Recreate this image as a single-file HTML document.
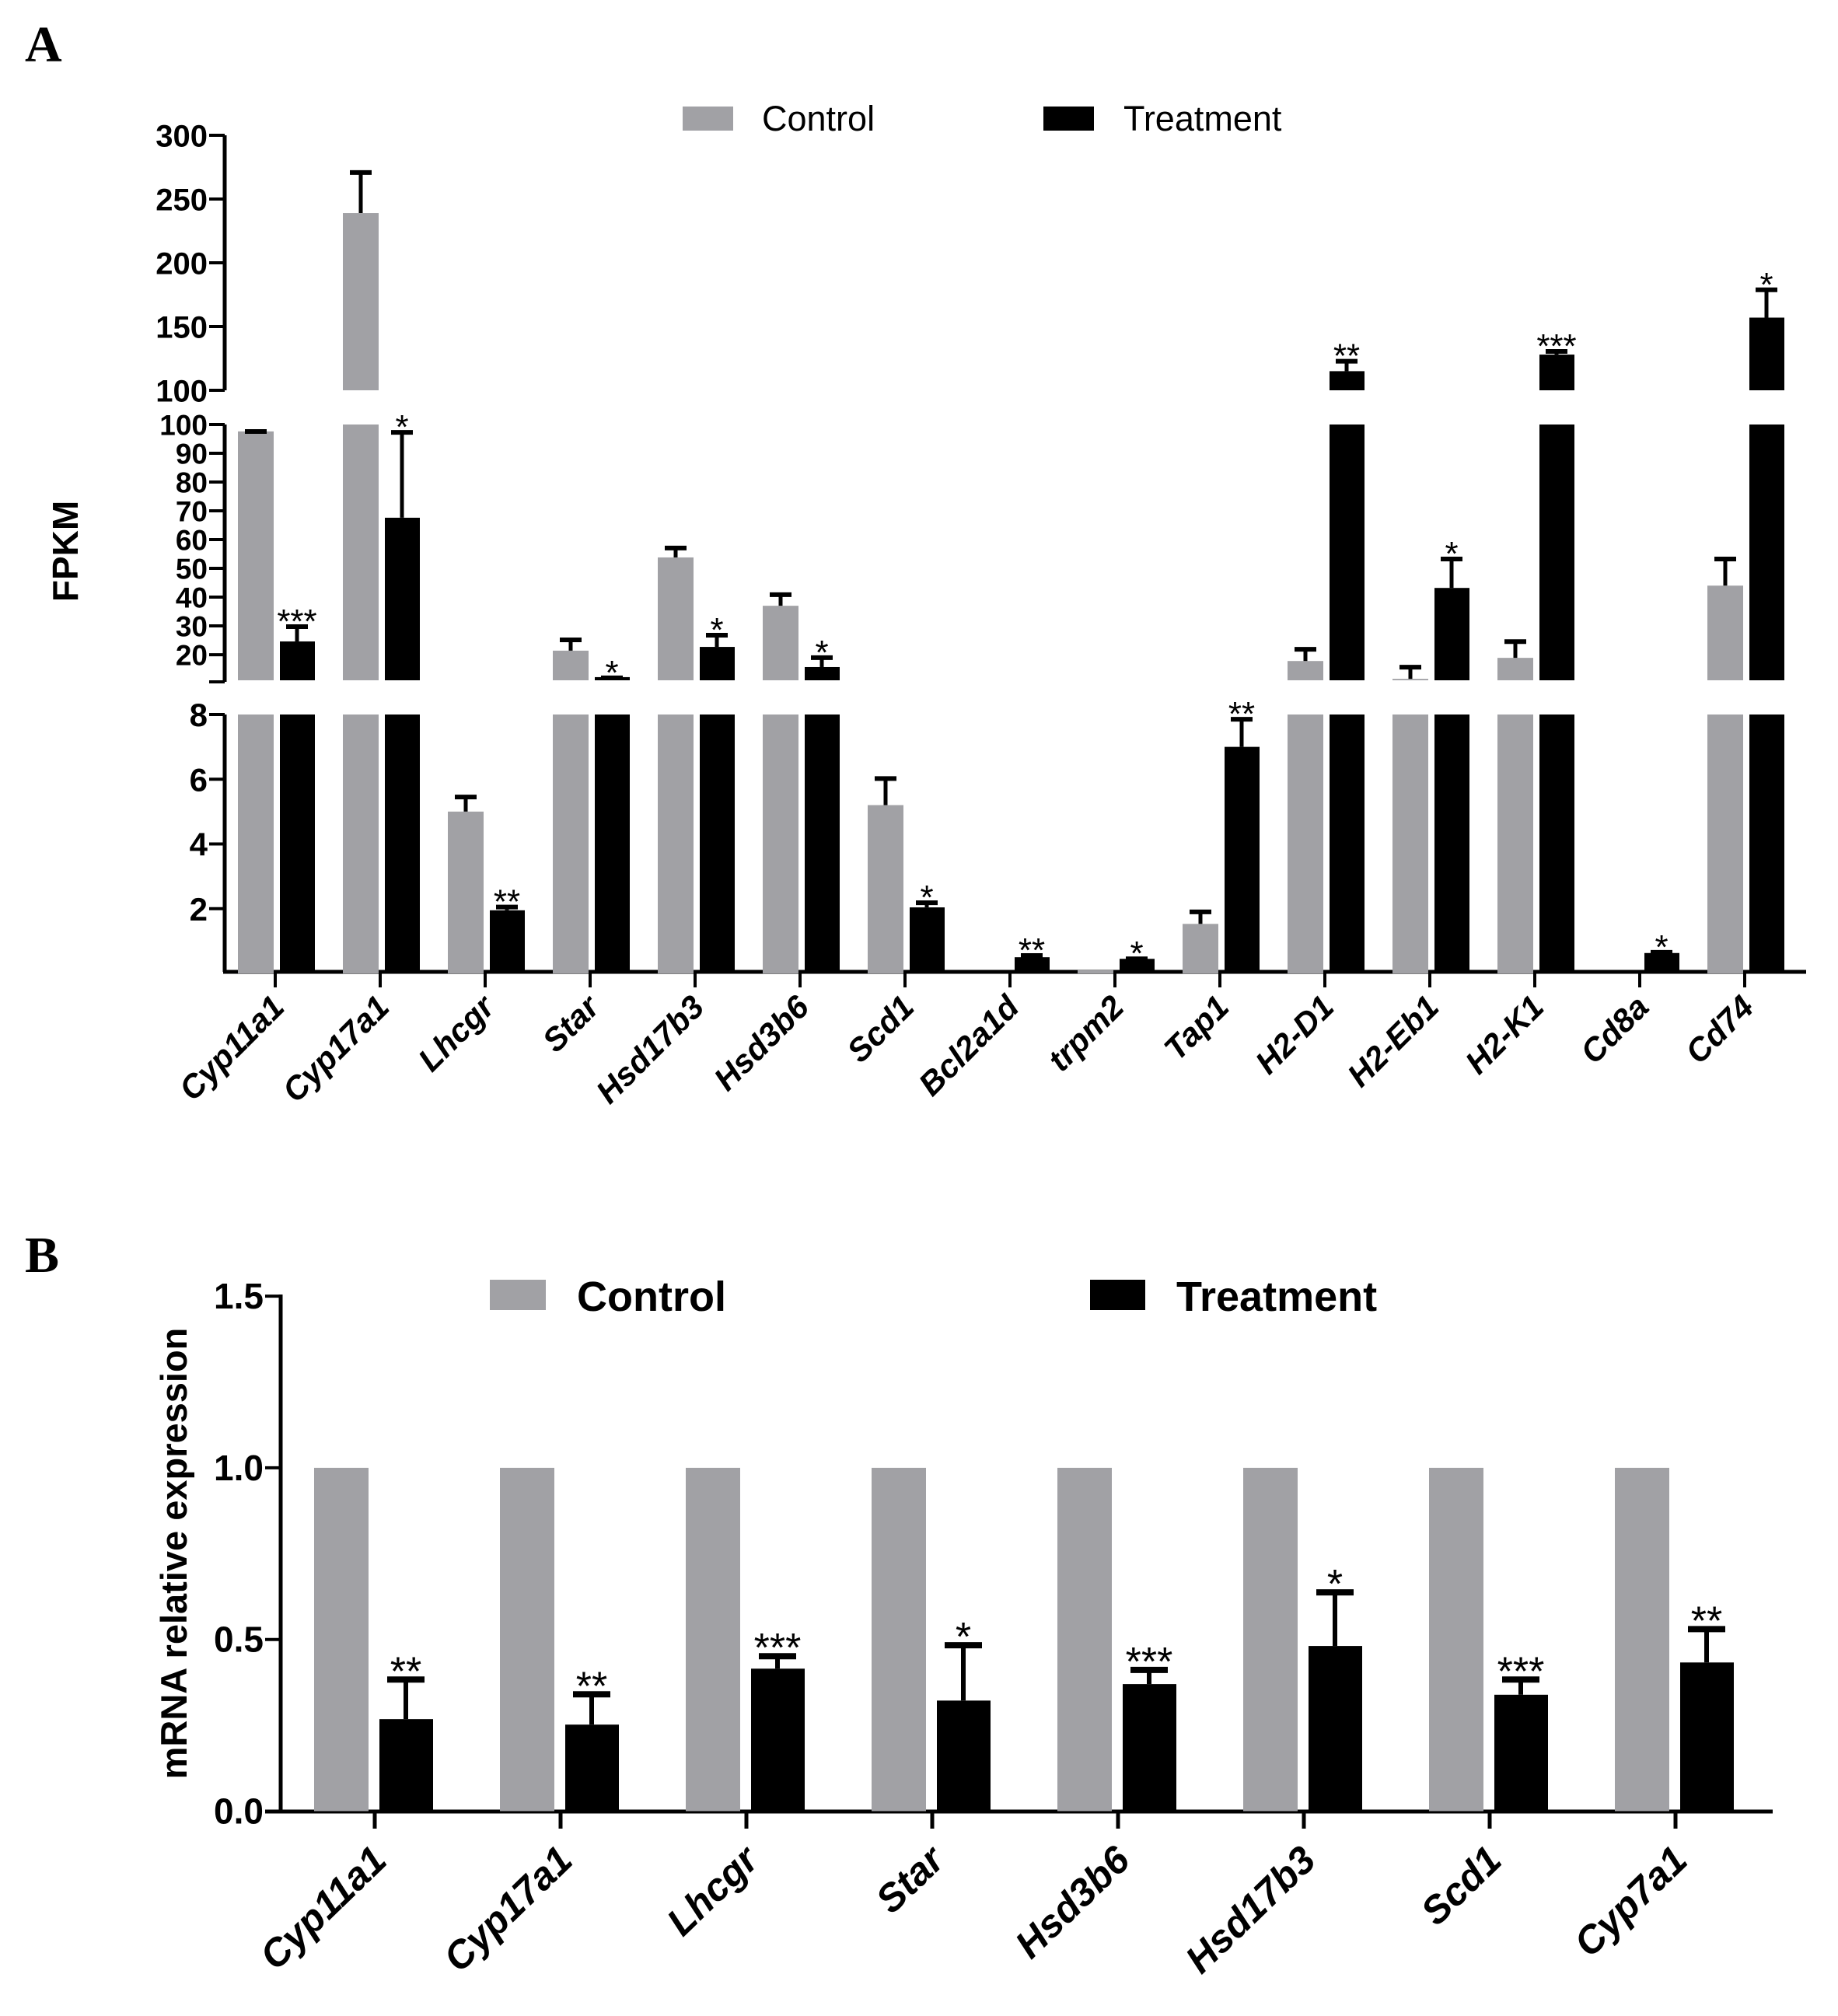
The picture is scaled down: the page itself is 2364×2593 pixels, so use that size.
<!DOCTYPE html>
<html><head><meta charset="utf-8"><style>
html,body{margin:0;padding:0;background:#fff}
svg{display:block}
</style></head><body>
<svg id="fig" width="2364" height="2593" viewBox="0 0 2364 2593" xmlns="http://www.w3.org/2000/svg" font-family="Liberation Sans, Arial, sans-serif">
<text x="32" y="79" style="font-family:'Liberation Serif',serif" font-weight="bold" font-size="66">A</text>
<text x="32" y="1636" style="font-family:'Liberation Serif',serif" font-weight="bold" font-size="66">B</text>
<g id="gA"></g>
<g id="gB"></g>
</svg>
<script>
// ---------- Panel A data ----------
const catsA = ["Cyp11a1","Cyp17a1","Lhcgr","Star","Hsd17b3","Hsd3b6","Scd1","Bcl2a1d","trpm2","Tap1","H2-D1","H2-Eb1","H2-K1","Cd8a","Cd74"];
const ctrlA = [97.6,239,5.0,21.4,53.8,37,5.2,0,0.1,1.53,17.8,11.6,18.9,0,44];
const ctrlErrA = [98.1,272,5.5,25.7,57.6,41.4,6.07,0,0.1,1.95,22.4,16.2,25.1,0,53.8];
const trtA = [24.6,67.6,1.95,12.2,22.7,15.7,2.04,0.5,0.45,7.0,115,43.2,128,0.63,157];
const trtErrA = [30.3,97.8,2.1,12.5,27.3,19.5,2.23,0.6,0.5,7.9,124,53.8,131.7,0.7,180];
const sigA = ["***","*","**","*","*","*","*","**","*","**","**","*","***","*","*"];
const ticksTopA = [100,150,200,250,300];
const ticksMidA = [20,30,40,50,60,70,80,90,100];
const ticksBotA = [2,4,6,8];
// ---------- Panel B data ----------
const catsB = ["Cyp11a1","Cyp17a1","Lhcgr","Star","Hsd3b6","Hsd17b3","Scd1","Cyp7a1"];
const ctrlB = [1,1,1,1,1,1,1,1];
const trtB = [0.268,0.252,0.415,0.322,0.37,0.481,0.339,0.433];
const trtErrB = [0.39,0.347,0.458,0.49,0.418,0.644,0.39,0.537];
const sigB = ["**","**","***","*","***","*","***","**"];
const ticksB = [0.0,0.5,1.0,1.5];
const tickLabelsB = ["0.0","0.5","1.0","1.5"];

const NS="http://www.w3.org/2000/svg";
function mk(parent,tag,attrs,txt){const e=document.createElementNS(NS,tag);for(const k in attrs)e.setAttribute(k,attrs[k]);if(txt!==undefined)e.textContent=txt;parent.appendChild(e);return e;}
const GREY="#a1a1a5";

const segs=[
 {lo:100,hi:300,y0:502,y1:174},
 {lo:11.1,hi:100,y0:875,y1:546},
 {lo:0,hi:8,y0:1252,y1:919}
];
function segY(s,v){return s.y0-(v-s.lo)*(s.y0-s.y1)/(s.hi-s.lo);}
function xA(i){return 354+i*135;}
function yA(v){
  if(v>100) return segY(segs[0],v);
  if(v>8) return segY(segs[1],Math.max(v,11.1));
  return segY(segs[2],v);
}
const gA=document.getElementById('gA');
const axX=289;
[[174,502],[546,877],[919,1250]].forEach((r,k)=>{
  const l=mk(gA,'line',{x1:axX,x2:axX,y1:r[0],y2:r[1],stroke:'#000','stroke-width':5});
  
  
});
mk(gA,'line',{x1:269,x2:axX,y1:877,y2:877,stroke:'#000','stroke-width':4});
function yTick(g,y,label,fs){
  mk(g,'line',{x1:axX-20,x2:axX,y1:y,y2:y,stroke:'#000','stroke-width':4});
  const t=mk(g,'text',{x:axX-22,y:y+fs*0.36,'text-anchor':'end','font-size':fs,'font-weight':'bold'},label);
  
  
}
ticksTopA.forEach(v=>yTick(gA,segY(segs[0],v),String(v),40));
ticksMidA.forEach(v=>yTick(gA,segY(segs[1],v),String(v),37));
ticksBotA.forEach(v=>yTick(gA,segY(segs[2],v),String(v),42));
const xaA=mk(gA,'line',{x1:axX-2,x2:2323,y1:1250,y2:1250,stroke:'#000','stroke-width':5});


const ytA=mk(gA,'text',{x:0,y:0,transform:'translate(100,709) rotate(-90)','text-anchor':'middle','font-size':46,'font-weight':'bold'},'FPKM');



function barA(x,w,v,color,name){
  segs.forEach(s=>{
    if(v<=s.lo) return;
    const top=segY(s,Math.min(v,s.hi)), bot=s.y0;
    const r=mk(gA,'rect',{x:x,y:top,width:w,height:Math.max(bot-top,1.5),fill:color});
    
    
  });
}
function errA(cx,v,e){
  if(e<=v) return;
  const y1=yA(v), y2=yA(e);
  mk(gA,'line',{x1:cx,x2:cx,y1:y1,y2:y2,stroke:'#000','stroke-width':5});
  mk(gA,'line',{x1:cx-14,x2:cx+14,y1:y2+2,y2:y2+2,stroke:'#000','stroke-width':6});
}
catsA.forEach((c,i)=>{
  const t=xA(i);
  barA(t-48,46,ctrlA[i],GREY,'bar-control-'+c);
  if(ctrlErrA[i]>ctrlA[i]) errA(t-25,ctrlA[i],ctrlErrA[i]);
  barA(t+6,45,trtA[i],'#000','bar-treatment-'+c);
  errA(t+28,trtA[i],trtErrA[i]);
  const s=mk(gA,'text',{x:t+28,y:yA(trtErrA[i])+10,'text-anchor':'middle','font-size':44},sigA[i]);
  
  
  mk(gA,'line',{x1:t,x2:t,y1:1250,y2:1270,stroke:'#000','stroke-width':4});
  const lb=mk(gA,'text',{x:0,y:0,transform:`translate(${t+14},${1298}) rotate(-45)`,'text-anchor':'end','font-size':42,'font-weight':'bold','font-style':'italic'},c);
  
  
});
let lr=mk(gA,'rect',{x:878,y:137,width:65,height:31,fill:GREY});


let lt=mk(gA,'text',{x:980,y:168,'font-size':45},'Control');


lr=mk(gA,'rect',{x:1342,y:137,width:65,height:31,fill:'#000'});


lt=mk(gA,'text',{x:1445,y:168,'font-size':45},'Treatment');



const gB=document.getElementById('gB');
const bx0=361;
function xB(i){return 482+i*239;}
function yB(v){return 2329.5-v*441.6;}
const yaB=mk(gB,'line',{x1:bx0,x2:bx0,y1:1665,y2:2332,stroke:'#000','stroke-width':5});


const xaB=mk(gB,'line',{x1:bx0-20,x2:2280,y1:2330,y2:2330,stroke:'#000','stroke-width':5});


ticksB.forEach((v,k)=>{
  const y=yB(v);
  mk(gB,'line',{x1:bx0-20,x2:bx0,y1:y,y2:y,stroke:'#000','stroke-width':4});
  const t=mk(gB,'text',{x:bx0-22,y:y+16,'text-anchor':'end','font-size':46,'font-weight':'bold'},tickLabelsB[k]);
  
  
});
const ytB=mk(gB,'text',{x:0,y:0,transform:'translate(240,1998) rotate(-90)','text-anchor':'middle','font-size':47,'font-weight':'bold'},'mRNA relative expression');


catsB.forEach((c,i)=>{
  const t=xB(i);
  const r1=mk(gB,'rect',{x:t-78,y:yB(ctrlB[i]),width:70,height:yB(0)-yB(ctrlB[i]),fill:GREY});
  
  
  const r2=mk(gB,'rect',{x:t+6,y:yB(trtB[i]),width:69,height:yB(0)-yB(trtB[i]),fill:'#000'});
  
  
  const cx=t+40;
  mk(gB,'line',{x1:cx,x2:cx,y1:yB(trtB[i]),y2:yB(trtErrB[i]),stroke:'#000','stroke-width':6});
  mk(gB,'line',{x1:cx-24,x2:cx+24,y1:yB(trtErrB[i])+3,y2:yB(trtErrB[i])+3,stroke:'#000','stroke-width':8});
  const s=mk(gB,'text',{x:cx,y:yB(trtErrB[i])+10,'text-anchor':'middle','font-size':52},sigB[i]);
  
  
  mk(gB,'line',{x1:t,x2:t,y1:2330,y2:2352,stroke:'#000','stroke-width':5});
  const lb=mk(gB,'text',{x:0,y:0,transform:`translate(${t+18},${2396}) rotate(-44)`,'text-anchor':'end','font-size':50,'font-weight':'bold','font-style':'italic'},c);
  
  
});
lr=mk(gB,'rect',{x:630,y:1646,width:72,height:39,fill:GREY});


lt=mk(gB,'text',{x:742,y:1686,'font-size':54,'font-weight':'bold'},'Control');


lr=mk(gB,'rect',{x:1402,y:1646,width:71,height:39,fill:'#000'});


lt=mk(gB,'text',{x:1513,y:1686,'font-size':54,'font-weight':'bold'},'Treatment');


</script>
</body></html>
